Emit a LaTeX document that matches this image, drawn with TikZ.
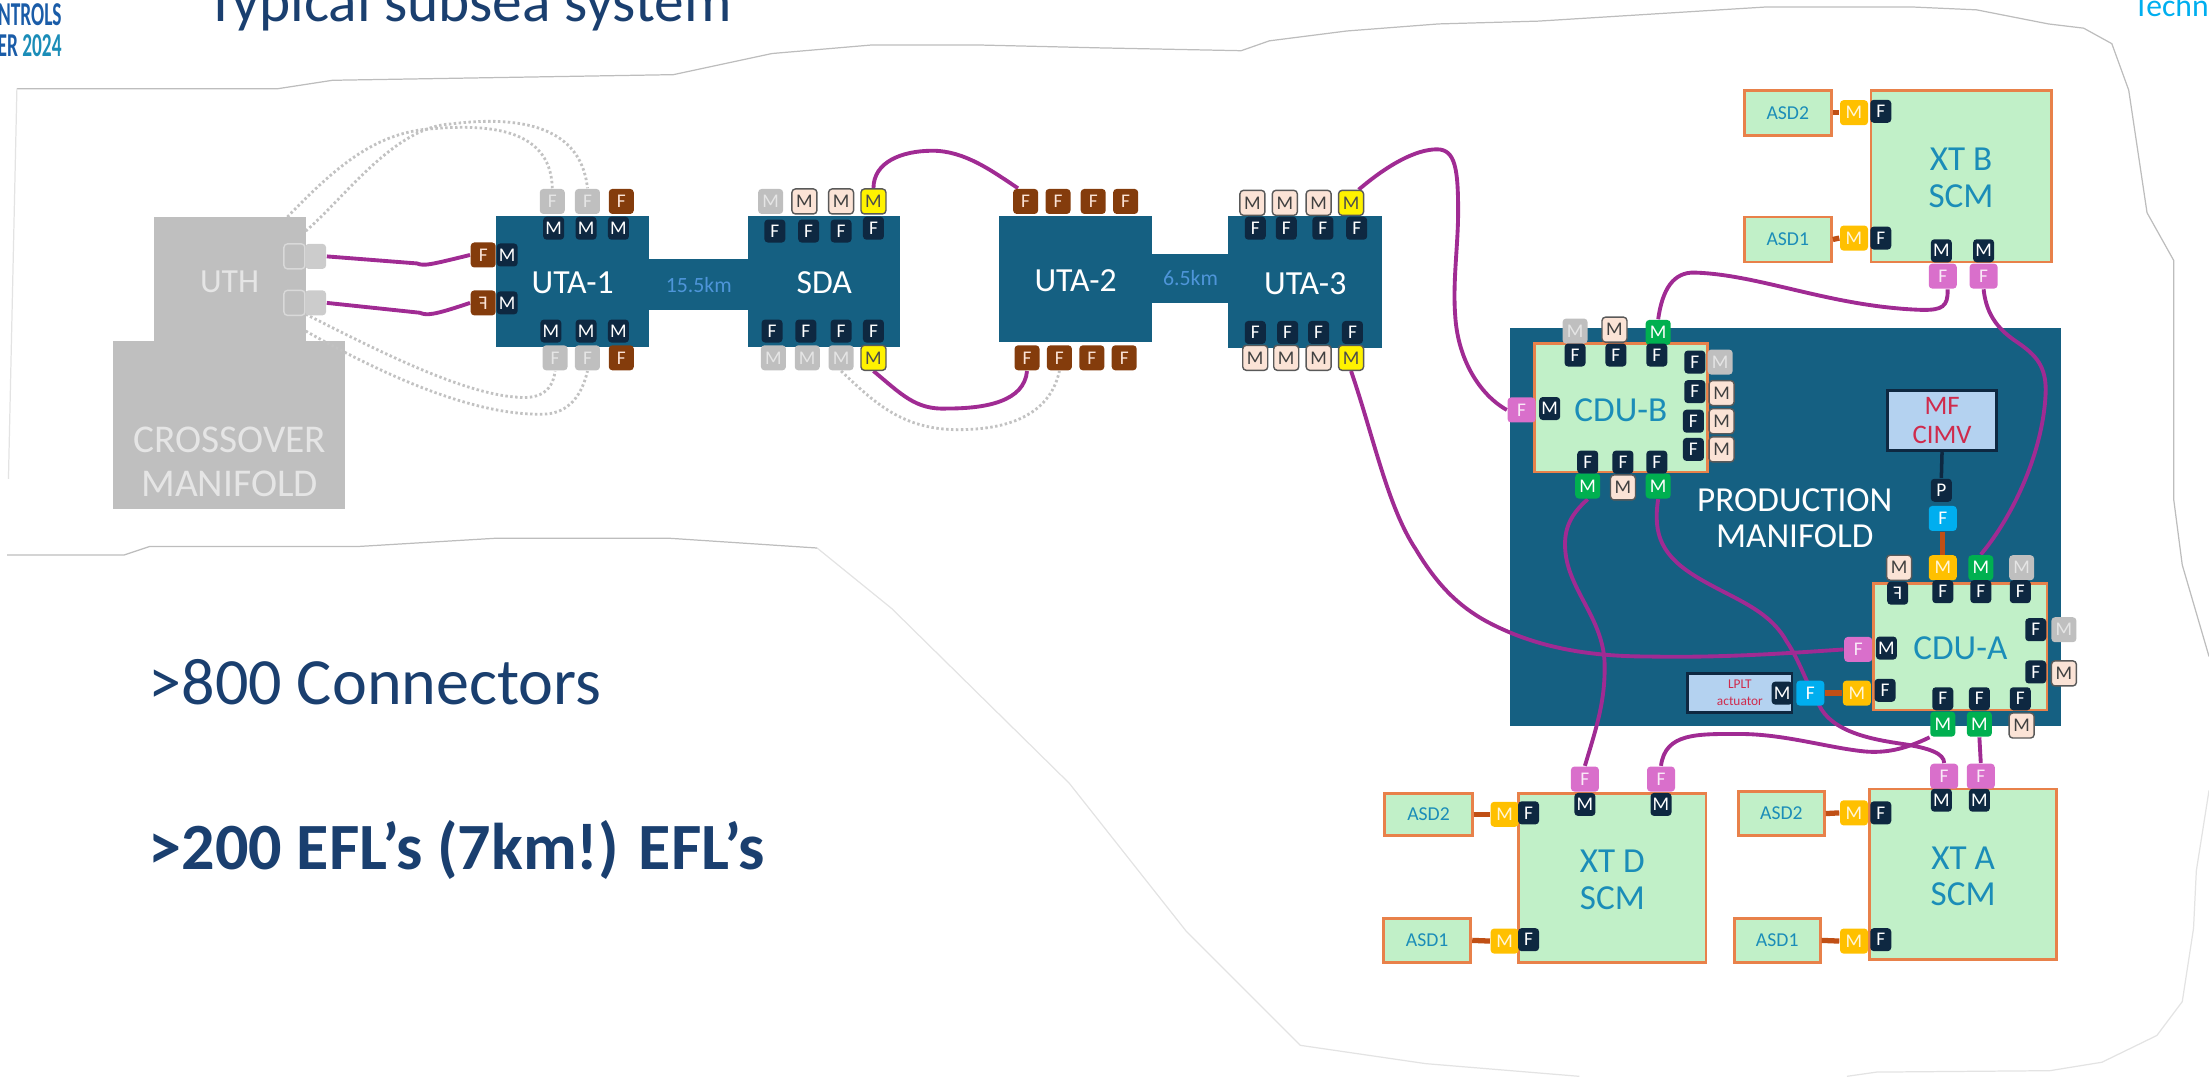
\documentclass[tikz,border=0pt]{standalone}
\usepackage{xcolor}
\usepackage{fontspec}
\setmainfont{Carlito}
\usetikzlibrary{fit,backgrounds}

\definecolor{hubteal}{HTML}{156082}
\definecolor{navyconn}{HTML}{0E2841}
\definecolor{brownconn}{HTML}{843C0C}
\definecolor{paleconn}{HTML}{FBE3D6}
\definecolor{greyconn}{HTML}{BFBFBF}
\definecolor{greenconn}{HTML}{00B050}
\definecolor{pinkconn}{HTML}{D96FCB}
\definecolor{blueconn}{HTML}{00AEEF}
\definecolor{amberconn}{HTML}{FFC000}
\definecolor{modgreen}{HTML}{C1F0C8}
\definecolor{modedge}{HTML}{E8814A}
\definecolor{modtext}{HTML}{1B8DB8}
\definecolor{wirepurple}{HTML}{A02B93}
\definecolor{linkbrown}{HTML}{C04F15}
\definecolor{titlenavy}{HTML}{1A3F6F}
\definecolor{kmblue}{HTML}{4E95D9}
\definecolor{valveblue}{HTML}{B4D2F0}
\definecolor{valvered}{HTML}{CF2B4C}
\definecolor{logoblue}{HTML}{1A5CA8}

\pgfdeclarelayer{bodies}
\pgfdeclarelayer{wires}
\pgfsetlayers{bodies,wires,main}

\begin{document}
\begin{tikzpicture}[
  x=0.14088mm, y=-0.14088mm,
  hub/.style={fill=hubteal, inner sep=0pt},
  hublabel/.style={text=white, yshift=-0.2mm, font=\fontsize{9.6}{10}\selectfont},
  kmlabel/.style={text=kmblue, font=\fontsize{6.2}{7}\selectfont},
  grey/.style={fill=greyconn, inner sep=0pt},
  greylabel/.style={text=white!90!black, yshift=-0.3mm, font=\fontsize{9.6}{10}\selectfont},
  module/.style={draw=modedge, line width=0.8pt, fill=modgreen, inner sep=0pt},
  modlabel/.style={text=modtext, align=center, yshift=-0.2mm, font=\fontsize{10}{10.4}\selectfont},
  asdlabel/.style={text=modtext, font=\fontsize{5.6}{6}\selectfont},
  valvebox/.style={draw=navyconn, line width=0.8pt, fill=valveblue, inner sep=0pt},
  valvelabel/.style={text=valvered, align=center, font=\fontsize{7.6}{8}\selectfont},
  lpltlabel/.style={text=valvered, align=center, font=\fontsize{3.8}{4.8}\selectfont},
  conn/.style={rounded corners=1pt, inner sep=0pt, minimum width=2.5mm, minimum height=2.5mm, font=\fontsize{5.5}{6}\selectfont},
  navyc/.style={conn, fill=navyconn, text=white, minimum width=2.1mm, minimum height=2.3mm},
  brownc/.style={conn, fill=brownconn, text=paleconn},
  palec/.style={conn, draw=black!65, line width=0.4pt, fill=paleconn, text=black!75},
  greyc/.style={conn, fill=greyconn, text=white!90!black},
  yellowc/.style={conn, draw=black!65, line width=0.4pt, fill=yellow, text=black!70},
  greenc/.style={conn, fill=greenconn, text=white},
  pinkc/.style={conn, fill=pinkconn, text=white!85!pinkconn, minimum width=2.8mm},
  bluec/.style={conn, fill=blueconn, text=white, minimum width=2.8mm},
  amberc/.style={conn, fill=amberconn, text=white!85!amberconn, minimum width=2.8mm},
  wire/.style={draw=wirepurple, line width=1.1pt},
  efl/.style={draw=black!24, line width=0.8pt, dash pattern=on 0.7pt off 0.7pt},
  link/.style={draw=linkbrown, line width=1.5pt},
  outline/.style={draw=black!26, line width=0.35pt},
  faint/.style={draw=black!11, line width=0.35pt}
]
  \useasboundingbox (0,0) rectangle (1568,764);

  % heading and notes
  \node[anchor=base west, inner sep=0pt, text=titlenavy, font=\fontsize{16.9}{18}\selectfont] (title) at (146,15.5) {Typical subsea system};
  \node[anchor=base east, inner sep=0pt, text=logoblue, font=\bfseries\fontsize{9.5}{10}\selectfont, xscale=0.58, transform shape] (logoa) at (44,18) {NTROLS};
  \node[anchor=base east, inner sep=0pt, text=logoblue, font=\bfseries\fontsize{9.5}{10}\selectfont, xscale=0.58, transform shape] (logob) at (44,40) {ER \textcolor{modtext}{2024}};
  \node[anchor=base west, inner sep=0pt, text=blueconn, font=\fontsize{9}{10}\selectfont] (techn) at (1514,12) {Techn};
  \node[anchor=base west, inner sep=0pt, text=titlenavy, font=\fontsize{18.8}{20}\selectfont] (notea) at (105,500) {>800 Connectors};
  \node[anchor=base west, inner sep=0pt, text=titlenavy, font=\bfseries\fontsize{18.8}{20}\selectfont] (noteb) at (105,617.5) {>200 EFL’s (7km!) EFL’s};

  \begin{pgfonlayer}{bodies}
    % faint cut-out edge
    \draw[outline] (12,63) -- (197,63) -- (236,57) -- (478,53) -- (548,38) -- (618,32) -- (697,32) -- (781,34) -- (881,36) -- (901,29) -- (956,22) -- (1021,17) -- (1092,15) -- (1253,5) -- (1358,5) -- (1403,7) -- (1454,17) -- (1479,20) -- (1499,31) -- (1511,64) -- (1524,151) -- (1543,185) -- (1543,355) -- (1549,401) -- (1568,466);
    \draw[faint] (1568,561) -- (1559,618) -- (1557,659) -- (1549,711) -- (1531,735) -- (1492,754) -- (1455,760) -- (1332,761) -- (1311,764);
    \draw[faint] (1121,764) -- (1012,755) -- (923,742) -- (842,661) -- (759,556) -- (633,432) -- (580,389);
    \draw[outline] (580,389) -- (474,382) -- (353,382) -- (253,388) -- (106,388) -- (88,394) -- (5,394);
    \draw[faint] (12,63) -- (6,340);

    % crossover side
    \node[grey, fit={(80,242) (245,361)}] (crossover) {};
    \node[grey, fit={(109,154) (217,242)}, label={[greylabel]center:UTH}] (uth) {};

    % umbilical terminations
    \node[hub, fit={(352,153) (461,246)}, label={[hublabel]center:UTA-1}] (uta1) {};
    \node[hub, fit={(461,184) (531,220)}, label={[kmlabel]center:15.5km}] (neck1) {};
    \node[hub, fit={(531,153) (639,246)}, label={[hublabel]center:SDA}] (sda) {};
    \node[hub, fit={(709,153) (818,243)}, label={[hublabel]center:UTA-2}] (uta2) {};
    \node[hub, fit={(818,180) (872,215)}, label={[kmlabel]center:6.5km}] (neck2) {};
    \node[hub, fit={(872,153) (981,247)}, label={[hublabel]center:UTA-3}] (uta3) {};

    % manifold and modules
    \node[hub, fit={(1072,233) (1463,515)}] (prodman) {};
    \node[module, fit={(1089,244) (1212,335)}, label={[modlabel]center:CDU-B}] (cdub) {};
    \node[module, fit={(1330,414) (1453,504)}, label={[modlabel]center:CDU-A}] (cdua) {};
    \node[valvebox, fit={(1340,277) (1417,320)}, label={[valvelabel]center:MF\\CIMV}] (cimv) {};
    \node[valvebox, fit={(1198,478) (1272,506)}, label={[lpltlabel]center:LPLT\\actuator}] (lplt) {};
    \node[module, fit={(1328,64) (1456,186)}, label={[modlabel]center:XT B\\SCM}] (xtb) {};
    \node[module, fit={(1238,64) (1300,96)}, label={[asdlabel]center:ASD2}] (xtbasd2) {};
    \node[module, fit={(1238,154) (1300,186)}, label={[asdlabel]center:ASD1}] (xtbasd1) {};
    \node[module, fit={(1078,563) (1211,683)}, label={[modlabel]center:XT D\\SCM}] (xtd) {};
    \node[module, fit={(983,563) (1045,593)}, label={[asdlabel]center:ASD2}] (xtdasd2) {};
    \node[module, fit={(982,652) (1044,683)}, label={[asdlabel]center:ASD1}] (xtdasd1) {};
    \node[module, fit={(1327,560) (1460,681)}, label={[modlabel]center:XT A\\SCM}] (xta) {};
    \node[module, fit={(1234,562) (1295,593)}, label={[asdlabel]center:ASD2}] (xtaasd2) {};
    \node[module, fit={(1231,652) (1292,683)}, label={[asdlabel]center:ASD1}] (xtaasd1) {};
  \end{pgfonlayer}
  \node[text=white!90!black, align=center, font=\fontsize{11.2}{12.4}\selectfont] (crosstext) at (163,328) {CROSSOVER\\MANIFOLD};
  \node[text=white, align=center, font=\fontsize{10}{10.4}\selectfont] (prodtext) at (1274,368) {PRODUCTION\\MANIFOLD};

  % UTH ports
  \node[draw=black!15, fill=greyconn, rounded corners=1pt, inner sep=0pt, minimum width=2.1mm, minimum height=2.5mm] (uthpa1) at (209,182) {};
  \node[fill=black!20, rounded corners=1pt, inner sep=0pt, minimum width=2.1mm, minimum height=2.5mm] (uthpb1) at (224,182) {};
  \node[draw=black!15, fill=greyconn, rounded corners=1pt, inner sep=0pt, minimum width=2.1mm, minimum height=2.5mm] (uthpa2) at (209,215) {};
  \node[fill=black!20, rounded corners=1pt, inner sep=0pt, minimum width=2.1mm, minimum height=2.5mm] (uthpb2) at (224,215) {};

  % UTA-1 connectors
  \node[greyc] (uta1to1) at (392,143) {F};
  \node[greyc] (uta1to2) at (417,143) {F};
  \node[brownc] (uta1to3) at (441,143) {F};
  \node[navyc] (uta1ti1) at (393,162) {M};
  \node[navyc] (uta1ti2) at (416,162) {M};
  \node[navyc] (uta1ti3) at (439,162) {M};
  \node[brownc] (uta1lo1) at (343,181) {F};
  \node[navyc] (uta1li1) at (360,181) {M};
  \node[brownc] (uta1lo2) at (343,215) {\reflectbox{F}};
  \node[navyc] (uta1li2) at (360,215) {M};
  \node[navyc] (uta1bi1) at (391,235) {M};
  \node[navyc] (uta1bi2) at (416,235) {M};
  \node[navyc] (uta1bi3) at (439,235) {M};
  \node[greyc] (uta1bo1) at (394,254) {F};
  \node[greyc] (uta1bo2) at (417,254) {F};
  \node[brownc] (uta1bo3) at (441,254) {F};

  % SDA connectors
  \node[greyc] (sdato1) at (547,143) {M};
  \node[palec] (sdato2) at (571,143) {M};
  \node[palec] (sdato3) at (597,143) {M};
  \node[yellowc] (sdato4) at (620,143) {M};
  \node[navyc] (sdati1) at (550,164) {F};
  \node[navyc] (sdati2) at (574,164) {F};
  \node[navyc] (sdati3) at (597,164) {F};
  \node[navyc] (sdati4) at (620,162) {F};
  \node[navyc] (sdabi1) at (548,235) {F};
  \node[navyc] (sdabi2) at (572,235) {F};
  \node[navyc] (sdabi3) at (597,235) {F};
  \node[navyc] (sdabi4) at (620,235) {F};
  \node[greyc] (sdabo1) at (549,254) {M};
  \node[greyc] (sdabo2) at (573,254) {M};
  \node[greyc] (sdabo3) at (597,254) {M};
  \node[yellowc] (sdabo4) at (620,254) {M};

  % UTA-2 connectors
  \node[brownc] (uta2to1) at (728,143) {F};
  \node[brownc] (uta2to2) at (751,143) {F};
  \node[brownc] (uta2to3) at (776,143) {F};
  \node[brownc] (uta2to4) at (799,143) {F};
  \node[brownc] (uta2bo1) at (729,254) {F};
  \node[brownc] (uta2bo2) at (752,254) {F};
  \node[brownc] (uta2bo3) at (775,254) {F};
  \node[brownc] (uta2bo4) at (798,254) {F};

  % UTA-3 connectors
  \node[palec] (uta3to1) at (889,144) {M};
  \node[palec] (uta3to2) at (912,144) {M};
  \node[palec] (uta3to3) at (936,144) {M};
  \node[yellowc] (uta3to4) at (959,144) {M};
  \node[navyc] (uta3ti1) at (891,162) {F};
  \node[navyc] (uta3ti2) at (913,162) {F};
  \node[navyc] (uta3ti3) at (939,162) {F};
  \node[navyc] (uta3ti4) at (963,162) {F};
  \node[navyc] (uta3bi1) at (891,236) {F};
  \node[navyc] (uta3bi2) at (914,236) {F};
  \node[navyc] (uta3bi3) at (936,236) {F};
  \node[navyc] (uta3bi4) at (960,236) {F};
  \node[palec] (uta3bo1) at (891,254) {M};
  \node[palec] (uta3bo2) at (913,254) {M};
  \node[palec] (uta3bo3) at (936,254) {M};
  \node[yellowc] (uta3bo4) at (959,254) {M};

  % CDU-B connectors
  \node[greyc] (cdubto1) at (1118,235) {M};
  \node[palec] (cdubto2) at (1146,234) {M};
  \node[greenc] (cdubto3) at (1177,236) {M};
  \node[navyc] (cdubti1) at (1118,252) {F};
  \node[navyc] (cdubti2) at (1147,252) {F};
  \node[navyc] (cdubti3) at (1176,252) {F};
  \node[navyc] (cdubri1) at (1203,257) {F};
  \node[navyc] (cdubri2) at (1203,278) {F};
  \node[navyc] (cdubri3) at (1202,299) {F};
  \node[navyc] (cdubri4) at (1202,319) {F};
  \node[greyc] (cdubro1) at (1221,257) {M};
  \node[palec] (cdubro2) at (1222,279) {M};
  \node[palec] (cdubro3) at (1222,299) {M};
  \node[palec] (cdubro4) at (1222,319) {M};
  \node[pinkc] (cdublo) at (1080,291) {F};
  \node[navyc] (cdubli) at (1100,290) {M};
  \node[navyc] (cdubbi1) at (1127,328) {F};
  \node[navyc] (cdubbi2) at (1152,328) {F};
  \node[navyc] (cdubbi3) at (1176,328) {F};
  \node[greenc] (cdubbo1) at (1127,345) {M};
  \node[palec] (cdubbo2) at (1152,346) {M};
  \node[greenc] (cdubbo3) at (1177,345) {M};

  % CDU-A connectors
  \node[navyc] (cimvp) at (1378,348) {P};
  \node[bluec] (cimvf) at (1379,368) {F};
  \node[palec] (cduato1) at (1348,403) {M};
  \node[amberc] (cduato2) at (1379,403) {M};
  \node[greenc] (cduato3) at (1406,403) {M};
  \node[greyc] (cduato4) at (1435,403) {M};
  \node[navyc] (cduati1) at (1347,421) {\reflectbox{F}};
  \node[navyc] (cduati2) at (1379,420) {F};
  \node[navyc] (cduati3) at (1406,420) {F};
  \node[navyc] (cduati4) at (1434,420) {F};
  \node[navyc] (cduari1) at (1445,447) {F};
  \node[greyc] (cduaro1) at (1465,447) {M};
  \node[navyc] (cduari2) at (1445,477) {F};
  \node[palec] (cduaro2) at (1465,478) {M};
  \node[pinkc] (cdualo) at (1319,461) {F};
  \node[navyc] (cduali) at (1339,460) {M};
  \node[navyc] (lpltm) at (1265,492) {M};
  \node[bluec] (lpltf) at (1285,492) {F};
  \node[amberc] (cdualo2) at (1318,492) {M};
  \node[navyc] (cduali2) at (1338,490) {F};
  \node[navyc] (cduabi1) at (1379,496) {F};
  \node[navyc] (cduabi2) at (1405,496) {F};
  \node[navyc] (cduabi3) at (1434,496) {F};
  \node[greenc] (cduabo1) at (1379,514) {M};
  \node[greenc] (cduabo2) at (1405,514) {M};
  \node[palec] (cduabo3) at (1435,515) {M};

  % XT B connectors
  \node[amberc] (xtbm2) at (1316,80) {M};
  \node[navyc] (xtbf2) at (1335,79) {F};
  \node[amberc] (xtbm1) at (1316,169) {M};
  \node[navyc] (xtbf1) at (1335,169) {F};
  \node[navyc] (xtbi1) at (1378,178) {M};
  \node[navyc] (xtbi2) at (1408,178) {M};
  \node[pinkc] (xtbo1) at (1379,196) {F};
  \node[pinkc] (xtbo2) at (1408,196) {F};

  % XT D connectors
  \node[amberc] (xtdm2) at (1068,578) {M};
  \node[navyc] (xtdf2) at (1085,577) {F};
  \node[amberc] (xtdm1) at (1068,668) {M};
  \node[navyc] (xtdf1) at (1085,667) {F};
  \node[navyc] (xtdi1) at (1125,571) {M};
  \node[navyc] (xtdi2) at (1179,571) {M};
  \node[pinkc] (xtdo1) at (1125,553) {F};
  \node[pinkc] (xtdo2) at (1179,553) {F};

  % XT A connectors
  \node[amberc] (xtam2) at (1316,577) {M};
  \node[navyc] (xtaf2) at (1335,577) {F};
  \node[amberc] (xtam1) at (1316,668) {M};
  \node[navyc] (xtaf1) at (1335,667) {F};
  \node[navyc] (xtai1) at (1378,568) {M};
  \node[navyc] (xtai2) at (1405,568) {M};
  \node[pinkc] (xtao1) at (1380,551) {F};
  \node[pinkc] (xtao2) at (1406,551) {F};

  % free ends on the UTH
  \coordinate (uthtop) at (204,154);
  \coordinate (uthside) at (217,164);
  \coordinate (uthlowa) at (217,223);
  \coordinate (uthlowb) at (217,235);

  \begin{pgfonlayer}{wires}
    % spare jumpers
    \draw[efl] (uthtop) .. controls (235,122) and (262,97) .. (300,92) .. controls (340,88) and (391,88) .. (uta1to1.north);
    \draw[efl] (uthside) .. controls (245,140) and (280,90) .. (320,88) .. controls (360,83) and (412,85) .. (uta1to2.north);
    \draw[efl] (uthlowa) .. controls (270,250) and (330,280) .. (368,282) .. controls (380,283) and (392,280) .. (uta1bo1.south);
    \draw[efl] (uthlowb) .. controls (270,265) and (335,295) .. (385,294) .. controls (400,294) and (412,285) .. (uta1bo2.south);
    \draw[efl] (sdabo3.south) .. controls (620,285) and (640,305) .. (680,305) .. controls (715,305) and (745,295) .. (uta2bo2.south);

    % flying leads
    \draw[wire] (uthpb1.east) -- (296,187) .. controls (301,189) and (305,188) .. (uta1lo1.west);
    \draw[wire] (uthpb2.east) -- (298,222) .. controls (303,224) and (307,224) .. (uta1lo2.west);
    \draw[wire] (sdato4.north) .. controls (620,115) and (640,107) .. (662,107) .. controls (685,107) and (705,122) .. (uta2to1.120);
    \draw[wire] (sdabo4.south) .. controls (640,280) and (650,291) .. (672,290) .. controls (700,290) and (727,285) .. (uta2bo1.south);
    \draw[wire] (uta3to4.60) .. controls (985,117) and (1005,106) .. (1020,106) .. controls (1033,106) and (1035,120) .. (1035,150) .. controls (1035,175) and (1031,200) .. (1033,225) .. controls (1035,255) and (1050,280) .. (cdublo.west);
    \draw[wire] (uta3bo4.south) .. controls (975,310) and (985,360) .. (1005,390) .. controls (1020,415) and (1035,430) .. (1055,441) .. controls (1085,457) and (1120,466) .. (1170,466) .. controls (1220,467) and (1265,464) .. (cdualo.west);
    \draw[wire] (cdubto3.north) .. controls (1180,205) and (1188,193) .. (1203,193.5) .. controls (1250,195) and (1300,218) .. (1365,220) .. controls (1378,220) and (1383,218) .. (xtbo1.-70);
    \draw[wire] (xtbo2.south) .. controls (1410,225) and (1420,235) .. (1432,243) .. controls (1445,252) and (1453,260) .. (1452,280) .. controls (1450,320) and (1430,365) .. (cduato3.north);
    \draw[wire] (cdubbo1.south) .. controls (1115,365) and (1110,375) .. (1111,390) .. controls (1113,420) and (1140,440) .. (1139,475) .. controls (1139,500) and (1132,520) .. (xtdo1.north);
    \draw[wire] (cdubbo3.south) .. controls (1173,380) and (1180,395) .. (1205,410) .. controls (1230,425) and (1255,432) .. (1268,455) .. controls (1278,470) and (1282,485) .. (1291,500) .. controls (1300,520) and (1330,525) .. (1350,528) .. controls (1370,531) and (1380,535) .. (xtao1.north);
    \draw[wire] (cduabo1.south west) .. controls (1350,533) and (1335,535) .. (1320,533) .. controls (1295,530) and (1265,521) .. (1235,521) .. controls (1205,521) and (1182,520) .. (xtdo2.north);
    \draw[wire] (cduabo2.south) -- (xtao2.north);

    % short links
    \draw[navyconn, line width=1pt] (cimv.south) -- (cimvp.north);
    \draw[link] (cimvf.south) -- (cduato2.north);
    \draw[link] (lpltf.east) -- (cdualo2.west);
    \draw[link] (xtbasd2.east) -- (xtbm2.west);
    \draw[link] (xtbasd1.east) -- (xtbm1.west);
    \draw[link] (xtdasd2.east) -- (xtdm2.west);
    \draw[link] (xtdasd1.east) -- (xtdm1.west);
    \draw[link] (xtaasd2.east) -- (xtam2.west);
    \draw[link] (xtaasd1.east) -- (xtam1.west);
  \end{pgfonlayer}
\end{tikzpicture}
\end{document}
